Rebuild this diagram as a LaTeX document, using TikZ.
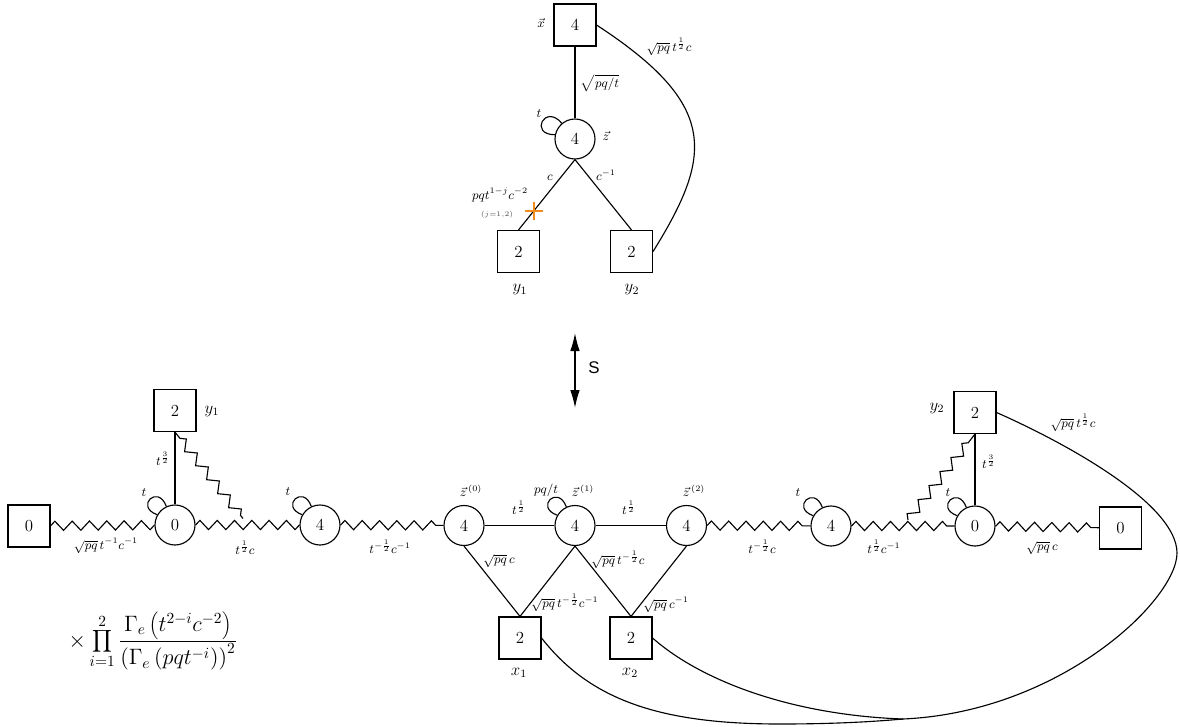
\documentclass[tikz,border=0pt]{standalone}
\usepackage{fontspec}
\setsansfont{Liberation Sans}
\usetikzlibrary{decorations.pathmorphing,arrows.meta}
\definecolor{flipcol}{RGB}{240,140,30}
\tikzset{
  gauge/.style={circle,draw,line width=0.8pt,minimum size=1cm,inner sep=0pt,font=\large},
  flavor/.style={rectangle,draw,line width=0.8pt,minimum size=1.05cm,inner sep=0pt,font=\large},
  lbl/.style={inner sep=0pt,font=\small},
  lblbig/.style={inner sep=0pt,font=\large},
  zig/.style={decorate,decoration={zigzag,segment length=0.4325cm,amplitude=0.115cm}},
  zigleft/.style={decorate,decoration={zigzag,segment length=0.445cm,amplitude=0.115cm,pre=lineto,pre length=0.2cm}},
  zigright/.style={decorate,decoration={zigzag,segment length=0.445cm,amplitude=0.115cm,post=lineto,post length=0.2cm}},
  adjoint/.style={out=110,in=160,looseness=5},
  adjointtop/.style={out=130,in=180,looseness=5}
}
\begin{document}
\begin{tikzpicture}[x=0.025cm,y=-0.025cm,line width=0.8pt]
      \useasboundingbox (0,0) rectangle (1180,726);
      % frame above
      \draw
        (575,25) node[flavor] (xtop){4}
        (575,139) node[gauge] (ztop){4}
        (518.5,251.5) node[flavor] (ya){2}
        (631.5,251.5) node[flavor] (yb){2};
      \coordinate (flip) at (534,211);
      \begin{scope}[-]
        \draw (xtop) to (ztop);
        \draw (ztop.south) to (ya.north);
        \draw (ztop.south) to (yb.north);
        \draw (ztop.130) to[adjointtop] (ztop.168);
        \draw (xtop.east) .. controls (719,105) and (713,155) .. (yb.east);
      \end{scope}
      \draw[flipcol,line width=1.3pt] (flip) +(-9,0) -- +(9,0) (flip) +(0,-9) -- +(0,9);
      \draw
        (541,23) node[lbl] (lxtop){$\vec{x}$}
        (606,136) node[lbl] (lztop){$\vec{z}$}
        (600,83) node[lbl] (lxz){$\sqrt{pq/t}$}
        (669,47) node[lbl] (lxy){$\sqrt{pq}\,t^{\frac{1}{2}}c$}
        (539,114) node[lbl] (ltop){$t$}
        (550,178) node[lbl] (lza){$c$}
        (606,175) node[lbl] (lzb){$c^{-1}$}
        (500,195) node[lbl] (lflip){$pqt^{1-j}c^{-2}$}
        (497,215) node[lbl,font=\tiny,text=black!70] (ljj){$(j{=}1{,}2)$}
        (520,290) node[lblbig] (lya){$y_1$}
        (632,290) node[lblbig] (lyb){$y_2$};
      % the s-duality arrow
      \coordinate (sup) at (575,333);
      \coordinate (sdown) at (575,408);
      \draw[{Latex[length=0.45cm,width=0.24cm]}-{Latex[length=0.45cm,width=0.24cm]},line width=1pt] (sup) to (sdown);
      \node[inner sep=0pt,font=\large\sffamily] (slabel) at (594,368) {S};
      % frame below
      \draw
        (29,526) node[flavor] (fl){0}
        (175,525) node[gauge] (gl){0}
        (175,410.5) node[flavor] (yl){2}
        (320,525) node[gauge] (hl){4}
        (464,525.5) node[gauge] (z0){4}
        (575,525.5) node[gauge] (z1){4}
        (686.5,525.5) node[gauge] (z2){4}
        (520,638) node[flavor] (x1){2}
        (631,638) node[flavor] (x2){2}
        (831,526) node[gauge] (hr){4}
        (975,526) node[gauge] (gr){0}
        (1120.5,528) node[flavor] (fr){0}
        (975,412.5) node[flavor] (yr){2};
      \coordinate (jl) at (243,518.5);
      \coordinate (jr) at (908,520);
      \coordinate (merge) at (903,719);
      \begin{scope}[-]
        \draw[zig] (fl) to (gl);
        \draw[zig] (gl) to (hl);
        \draw[zig] (hl) to (z0);
        \draw[zig] (z2) to (hr);
        \draw[zig] (hr) to (gr);
        \draw[zig] (gr) to (fr);
        \draw[zigleft] (yl.south) to (jl);
        \draw[zigright] (jr) to (yr.south);
        \draw (yl) to (gl);
        \draw (yr) to (gr);
        \draw (z0) to (z1);
        \draw (z1) to (z2);
        \draw (z0.south) to (x1.north);
        \draw (z1.south) to (x1.north);
        \draw (z1.south) to (x2.north);
        \draw (z2.south) to (x2.north);
        \draw (gl.115) to[adjoint] (gl.150);
        \draw (hl.115) to[adjoint] (hl.150);
        \draw (z1.115) to[adjoint] (z1.150);
        \draw (hr.115) to[adjoint] (hr.150);
        \draw (gr.115) to[adjoint] (gr.150);
        \draw (yr.east) .. controls (1070,445) and (1177,505) .. (1177,553)
          .. controls (1177,600) and (1060,712) .. (merge);
        \draw (x1.east) .. controls (590,700) and (660,724) .. (780,724)
          .. controls (830,724) and (870,722) .. (merge);
        \draw (x2.east) .. controls (700,680) and (790,715) .. (merge);
      \end{scope}
      \draw
        (212,411) node[lblbig] (lyl){$y_1$}
        (163,459) node[lbl] (lyg){$t^{\frac{3}{2}}$}
        (144,493) node[lbl] (ltgl){$t$}
        (288,492) node[lbl] (lthl){$t$}
        (106,546) node[lbl] (lfg){$\sqrt{pq}\,t^{-1}c^{-1}$}
        (245,548) node[lbl] (lgh){$t^{\frac{1}{2}}c$}
        (390,547) node[lbl] (lhz){$t^{-\frac{1}{2}}c^{-1}$}
        (471,491) node[lbl] (lz0){$\vec{z}^{\,(0)}$}
        (583,491) node[lbl] (lz1){$\vec{z}^{\,(1)}$}
        (694,491) node[lbl] (lz2){$\vec{z}^{\,(2)}$}
        (546,490) node[lbl] (lpq){$pq/t$}
        (519,508) node[lbl] (lzza){$t^{\frac{1}{2}}$}
        (629,508) node[lbl] (lzzb){$t^{\frac{1}{2}}$}
        (499,561) node[lbl] (lzxa){$\sqrt{pq}\,c$}
        (618,560) node[lbl] (lzxb){$\sqrt{pq}\,t^{-\frac{1}{2}}c$}
        (565,603) node[lbl] (lzxc){$\sqrt{pq}\,t^{-\frac{1}{2}}c^{-1}$}
        (666,605) node[lbl] (lzxd){$\sqrt{pq}\,c^{-1}$}
        (519,673) node[lblbig] (lxa){$x_1$}
        (630,673) node[lblbig] (lxb){$x_2$}
        (762,547) node[lbl] (lzh){$t^{-\frac{1}{2}}c$}
        (798,493) node[lbl] (lthr){$t$}
        (884,547) node[lbl] (lhg){$t^{\frac{1}{2}}c^{-1}$}
        (948,493) node[lbl] (ltgr){$t$}
        (989,462) node[lbl] (lyh){$t^{\frac{3}{2}}$}
        (937,408) node[lblbig] (lyr){$y_2$}
        (1073,423) node[lbl] (lyx){$\sqrt{pq}\,t^{\frac{1}{2}}c$}
        (1042,548) node[lbl] (lgf){$\sqrt{pq}\,c$}
        (153,641) node[inner sep=0pt,font=\Large,scale=1.1] (prefactor){$\displaystyle\times\prod_{i=1}^{2}\frac{\Gamma_e\left(t^{2-i}c^{-2}\right)}{\left(\Gamma_e\left(pqt^{-i}\right)\right)^2}$};
    \end{tikzpicture}
\end{document}
